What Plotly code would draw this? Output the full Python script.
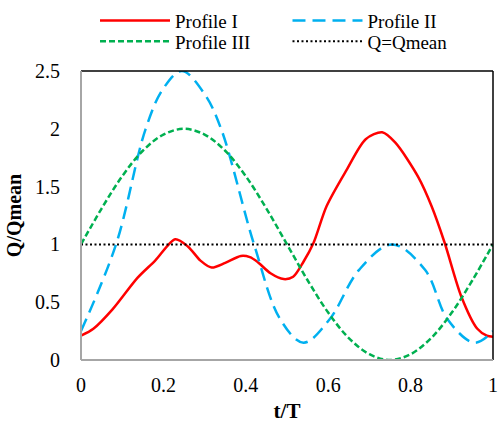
import plotly.graph_objects as go

# Profile I (red, solid)
t1 = [0, 0.03, 0.077, 0.137, 0.18, 0.229, 0.26, 0.29, 0.317, 0.35, 0.388, 0.41, 0.428, 0.46, 0.492,
      0.515, 0.54, 0.564, 0.596, 0.644, 0.691, 0.731, 0.763, 0.819, 0.851, 0.883, 0.923, 0.962, 0.985, 1.0]
q1 = [0.21, 0.27, 0.44, 0.71, 0.86, 1.045, 0.98, 0.86, 0.80, 0.84, 0.90, 0.89, 0.85, 0.75, 0.70,
      0.72, 0.85, 1.01, 1.33, 1.64, 1.91, 1.97, 1.88, 1.58, 1.33, 1.01, 0.55, 0.27, 0.21, 0.20]

# Profile II (blue, long dash)
t2 = [0, 0.085, 0.157, 0.2, 0.245, 0.3, 0.34, 0.42, 0.484, 0.54, 0.603, 0.675, 0.755, 0.835, 0.89, 0.955, 1.0]
q2 = [0.25, 1.0, 2.0, 2.35, 2.5, 2.3, 2.0, 1.0, 0.35, 0.15, 0.35, 0.78, 1.0, 0.78, 0.35, 0.15, 0.25]

# Profile III (green, short dash)
t3 = [0, 0.05, 0.1, 0.15, 0.2, 0.25, 0.3, 0.35, 0.4, 0.45, 0.5, 0.55, 0.6, 0.65, 0.7, 0.75, 0.8, 0.85, 0.9, 0.95, 1.0]
q3 = [1.0, 1.31, 1.59, 1.81, 1.95, 2.0, 1.95, 1.81, 1.59, 1.31, 1.0, 0.69, 0.41, 0.19, 0.05, 0.0, 0.05, 0.19, 0.41, 0.69, 1.0]

# Q = Qmean
t4 = [0, 1]
q4 = [1, 1]

x_ticks = [0, 0.2, 0.4, 0.6, 0.8, 1]
x_labels = ["0", "0.2", "0.4", "0.6", "0.8", "1"]
y_ticks = [0, 0.5, 1, 1.5, 2, 2.5]
y_labels = ["0", "0.5", "1", "1.5", "2", "2.5"]

font = "Liberation Serif"

fig = go.Figure()
fig.add_trace(go.Scatter(x=t1, y=q1, mode="lines", name="Profile I", legend="legend", showlegend=True,
                         line=dict(color="#FF0000", width=2.5, shape="spline", smoothing=0.8)))
fig.add_trace(go.Scatter(x=t2, y=q2, mode="lines", name="Profile II", legend="legend2", showlegend=True,
                         line=dict(color="#00B0F0", width=2.5, dash="13px,7px", shape="spline", smoothing=1.0)))
fig.add_trace(go.Scatter(x=t3, y=q3, mode="lines", name="Profile III", legend="legend3", showlegend=True,
                         line=dict(color="#00B050", width=2.5, dash="6px,3px", shape="spline")))
fig.add_trace(go.Scatter(x=t4, y=q4, mode="lines", name="Q=Qmean", legend="legend4", showlegend=True,
                         line=dict(color="#000000", width=2, dash="2px,2.5px")))

shp = []
shp.append(dict(type="line", xref="paper", yref="paper", x0=0, x1=1, y0=1, y1=1, line=dict(color="#000000", width=1.5)))
shp.append(dict(type="line", xref="paper", yref="paper", x0=1, x1=1, y0=0, y1=1, line=dict(color="#000000", width=1.5)))
shp.append(dict(type="line", xref="paper", yref="paper", x0=0, x1=0, y0=0, y1=1, line=dict(color="#A6A6A6", width=2)))
shp.append(dict(type="line", xref="paper", yref="paper", x0=0, x1=1, y0=0, y1=0, line=dict(color="#A6A6A6", width=2)))

leg_common = dict(orientation="v", xanchor="left", yanchor="top", itemwidth=70,
                  font=dict(family=font, size=19), bgcolor="rgba(0,0,0,0)")
row1 = 1.240
row2 = 1.168
col1 = 0.034
col2 = (290 - 81) / 417

fig.update_layout(
    width=500, height=423,
    margin=dict(l=81, r=2, t=69, b=62),
    paper_bgcolor="white", plot_bgcolor="white",
    font=dict(family=font, size=20, color="#000000"),
    shapes=shp,
    showlegend=True,
    legend=dict(x=col1, y=row1, visible=True, **leg_common),
    legend2=dict(x=col2, y=row1, **leg_common),
    legend3=dict(x=col1, y=row2, **leg_common),
    legend4=dict(x=col2, y=row2, **leg_common),
    xaxis=dict(range=[0, 1], tickvals=x_ticks, ticktext=x_labels, showgrid=False, zeroline=False,
               showline=False, ticks="outside", ticklen=7, tickcolor="rgba(0,0,0,0)",
               tickfont=dict(family=font, size=20), ticklabeloverflow="allow",
               title=dict(text="<b>t/T</b>", font=dict(family=font, size=21), standoff=10)),
    yaxis=dict(range=[0, 2.5], tickvals=y_ticks, ticktext=y_labels, showgrid=False, zeroline=False,
               showline=False, ticks="outside", ticklen=16, tickcolor="rgba(0,0,0,0)",
               tickfont=dict(family=font, size=20),
               title=dict(text="<b>Q/Qmean</b>", font=dict(family=font, size=20), standoff=8)),
)

fig.write_html("out.html", config={"displayModeBar": False},
               post_script="document.body.style.margin='0px';document.body.style.overflow='hidden';")
